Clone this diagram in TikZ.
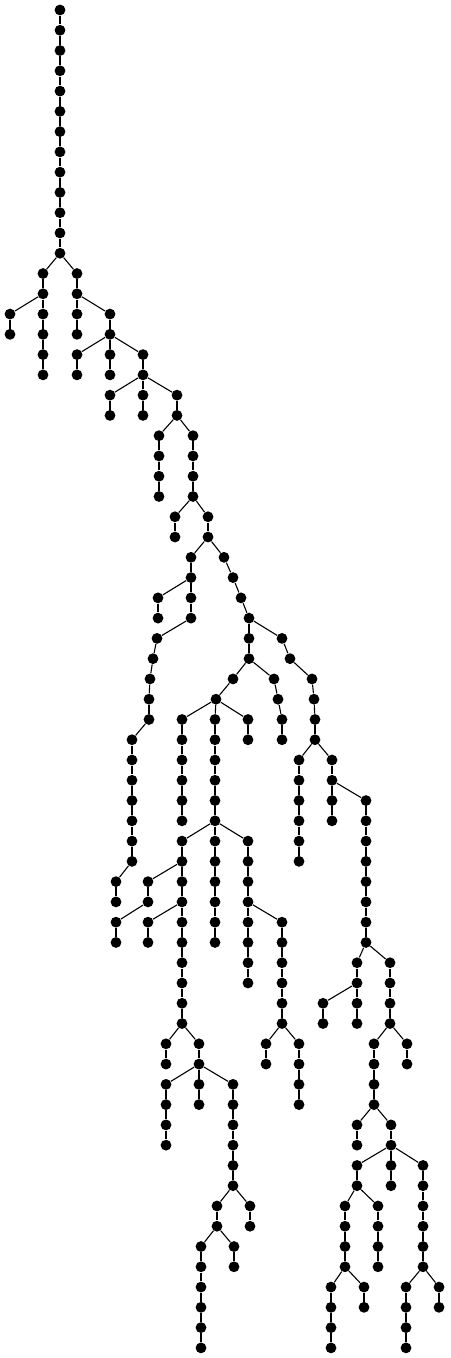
\documentclass[tikz,border=0pt]{standalone}

\begin{document}
\begin{tikzpicture}[
    x=0.5pt, y=-10.135pt,
    vtx/.style={circle, fill=black, inner sep=0pt, minimum size=5.4pt},
    link/.style={line width=0.55pt},
]
    \useasboundingbox (0,-0.493) rectangle (450,66.5);
    % straight runs: column / first level / last level
    \foreach \x/\a/\b in {60/0/12, 43/13/18, 10/15/16, 77/13/16, 110/15/18, 77/17/18,
        143/17/20, 110/19/20, 177/19/20, 159/21/24, 193/21/24, 175/25/26, 208/25/26,
        191/27/30, 224/27/27, 233/28/28, 241/29/29, 158/29/30, 249/30/32, 157/31/31,
        153/32/32, 150/33/33, 149/34/35, 132/36/42, 116/43/44, 282/31/31, 290/32/32,
        312/33/33, 314/34/34, 315/35/36, 233/33/33, 274/33/33, 216/34/34, 278/34/34,
        282/35/36, 182/35/40, 215/35/46, 248/35/36, 299/37/42, 332/37/40, 366/39/46,
        182/41/50, 248/41/48, 148/43/44, 116/45/46, 148/45/46, 282/45/50, 357/47/50,
        390/47/50, 323/49/50, 374/51/54, 407/51/52, 166/51/52, 199/51/54, 266/51/52,
        299/51/54, 166/53/56, 233/53/58, 357/55/56, 391/55/58, 357/57/58, 423/57/62,
        217/59/60, 250/59/60, 345/59/62, 378/59/62, 201/61/66, 234/61/62, 331/63/66,
        364/63/64, 406/63/66, 439/63/64} {
        \foreach \l in {\a,...,\b} {
            \node[vtx] (n\l-\x) at (\x,\l) {};
            \ifnum\l>\a
                \pgfmathtruncatemacro\p{\l-1}
                \draw[link] (n\p-\x) -- (n\l-\x);
            \fi
        }
    }
    % branches
    \foreach \u/\v in {12-60/13-43, 12-60/13-77, 14-43/15-10, 14-77/15-110,
        16-110/17-77, 16-110/17-143, 18-143/19-110, 18-143/19-177, 20-177/21-159,
        20-177/21-193, 24-193/25-175, 24-193/25-208, 26-208/27-191, 26-208/27-224,
        28-191/29-158, 30-191/31-157, 31-157/32-153, 32-153/33-150, 33-150/34-149,
        35-149/36-132, 42-132/43-116, 27-224/28-233, 28-233/29-241, 29-241/30-249,
        30-249/31-282, 32-249/33-233, 32-249/33-274, 33-233/34-216, 34-216/35-182,
        34-216/35-215, 34-216/35-248, 33-274/34-278, 34-278/35-282, 31-282/32-290,
        32-290/33-312, 33-312/34-314, 34-314/35-315, 36-315/37-299, 36-315/37-332,
        38-332/39-366, 40-215/41-182, 40-215/41-248, 42-182/43-148, 44-148/45-116,
        44-182/45-148, 44-248/45-282, 46-366/47-357, 46-366/47-390, 48-357/49-323,
        50-390/51-374, 50-390/51-407, 54-374/55-357, 54-374/55-391, 56-391/57-357,
        56-391/57-423, 58-357/59-345, 58-357/59-378, 62-345/63-331, 62-345/63-364,
        62-423/63-406, 62-423/63-439, 50-182/51-166, 50-182/51-199, 52-199/53-166,
        52-199/53-233, 58-233/59-217, 58-233/59-250, 60-217/61-201, 60-217/61-234,
        50-282/51-266, 50-282/51-299}
        \draw[link] (n\u) -- (n\v);
\end{tikzpicture}
\end{document}
